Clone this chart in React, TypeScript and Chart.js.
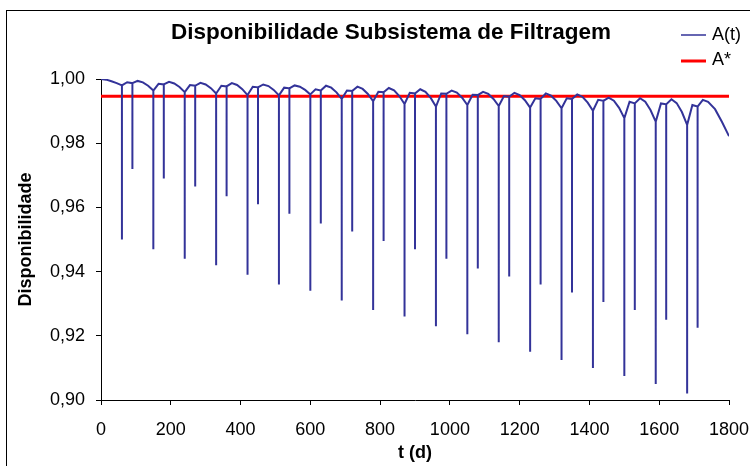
import React, { useEffect, useRef } from "react";
import { Chart, registerables } from "chart.js";

Chart.register(...registerables);

const TITLE = "Disponibilidade Subsistema de Filtragem";
const X_TITLE = "t (d)";
const Y_TITLE = "Disponibilidade";
const SERIES_LABELS = ["A(t)", "A*"];

const X_TICKS = [0, 200, 400, 600, 800, 1000, 1200, 1400, 1600, 1800];
const Y_TICKS = [0.9, 0.92, 0.94, 0.96, 0.98, 1.0];

const A_STAR = 0.9946;

// initial arc before the first maintenance
const startT = [0, 15, 30, 45];
const startA = [1.0, 0.9998, 0.9993, 0.9987];

// major maintenance instants, spike bottoms and curve value there
const majorT = [60, 150, 240, 330, 420, 510, 600, 690, 780, 870, 960, 1050, 1140, 1230, 1320, 1410, 1500, 1590, 1680];
const majorDip = [0.95, 0.947, 0.944, 0.942, 0.939, 0.936, 0.934, 0.931, 0.928, 0.926, 0.923, 0.9205, 0.918, 0.915, 0.9125, 0.91, 0.9075, 0.905, 0.902];
const majorV = [0.998, 0.9964, 0.9959, 0.9955, 0.995, 0.9949, 0.9952, 0.9938, 0.9931, 0.9922, 0.9914, 0.9919, 0.9916, 0.9911, 0.9909, 0.9901, 0.9878, 0.9867, 0.9857];

// small peak after a major maintenance (t + 15)
const riseA = [0.999, 0.9985, 0.9981, 0.9979, 0.9976, 0.9973, 0.9968, 0.9964, 0.996, 0.9957, 0.9955, 0.9951, 0.9947, 0.994, 0.994, 0.9935, 0.9929, 0.9924, 0.9919];

// secondary maintenance instants, spike bottoms and curve value there
const secondaryT = [90, 180, 270, 360, 450, 540, 630, 720, 810, 900, 990, 1080, 1170, 1260, 1350, 1440, 1530, 1620, 1710];
const secondaryDip = [0.972, 0.969, 0.9665, 0.9635, 0.961, 0.958, 0.955, 0.9525, 0.9495, 0.947, 0.944, 0.941, 0.9385, 0.936, 0.9335, 0.9305, 0.928, 0.925, 0.9225];
const secondaryV = [0.9987, 0.9983, 0.9979, 0.9977, 0.9974, 0.9971, 0.9964, 0.9963, 0.9959, 0.9955, 0.9954, 0.995, 0.9945, 0.9938, 0.9938, 0.9932, 0.9924, 0.9921, 0.9914];

// main peak (t + 45) and the falling arc (t + 60, t + 75)
const peakA = [0.9994, 0.9991, 0.9988, 0.9987, 0.9983, 0.998, 0.9979, 0.9976, 0.9972, 0.9968, 0.9964, 0.996, 0.9957, 0.9955, 0.9952, 0.9942, 0.994, 0.9937, 0.9935];
const fallA1 = [0.99895, 0.9986, 0.9983, 0.99815, 0.9978, 0.9976, 0.9973, 0.9969, 0.99645, 0.996, 0.99575, 0.99535, 0.995, 0.9948, 0.99445, 0.99325, 0.9929, 0.9925];
const fallA2 = [0.9979, 0.9975, 0.99715, 0.99685, 0.9966, 0.9966, 0.99585, 0.99535, 0.9947, 0.9941, 0.99415, 0.9938, 0.9934, 0.9932, 0.99265, 0.991, 0.99035, 0.9897];
const PHASE_OFFSETS = [15, 45, 60, 75];

// final arc
const endT = [1740, 1760, 1780, 1800];
const endA = [0.9929, 0.9906, 0.9866, 0.9822];

const BLUE = "#333399";
const RED = "#ff0000";
const FONT = "'Liberation Sans', Arial, sans-serif";

function buildSeries() {
  const pts: { x: number; y: number }[] = [];
  startT.forEach((t, i) => pts.push({ x: t, y: startA[i] }));
  majorT.forEach((t, k) => {
    pts.push({ x: t, y: majorV[k] });
    pts.push({ x: t, y: majorDip[k] });
    pts.push({ x: t, y: majorV[k] });
    pts.push({ x: t + PHASE_OFFSETS[0], y: riseA[k] });
    const s = secondaryT[k];
    pts.push({ x: s, y: secondaryV[k] });
    pts.push({ x: s, y: secondaryDip[k] });
    pts.push({ x: s, y: secondaryV[k] });
    pts.push({ x: t + PHASE_OFFSETS[1], y: peakA[k] });
    if (k < fallA1.length) {
      pts.push({ x: t + PHASE_OFFSETS[2], y: fallA1[k] });
      pts.push({ x: t + PHASE_OFFSETS[3], y: fallA2[k] });
    }
  });
  endT.forEach((t, i) => pts.push({ x: t, y: endA[i] }));
  return pts;
}

const framePlugin = {
  id: "frame",
  beforeDraw(chart: any) {
    const ctx = chart.ctx;
    ctx.save();
    ctx.fillStyle = "#ffffff";
    ctx.fillRect(0, 0, chart.width, chart.height);
    ctx.strokeStyle = "#000000";
    ctx.lineWidth = 1;
    ctx.strokeRect(6.5, 10.5, 800, 600);
    ctx.restore();
  },
  afterDraw(chart: any) {
    const ctx = chart.ctx;
    ctx.save();
    ctx.fillStyle = "#000";
    ctx.textBaseline = "middle";
    ctx.textAlign = "center";
    ctx.font = `bold 22.5px ${FONT}`;
    ctx.fillText(TITLE, 391, 33);
    // legend
    ctx.textAlign = "left";
    ctx.font = `18px ${FONT}`;
    ctx.lineWidth = 1.5;
    ctx.strokeStyle = BLUE;
    ctx.beginPath();
    ctx.moveTo(681, 35);
    ctx.lineTo(706, 35);
    ctx.stroke();
    ctx.fillText(SERIES_LABELS[0], 712, 35);
    ctx.lineWidth = 3;
    ctx.strokeStyle = RED;
    ctx.beginPath();
    ctx.moveTo(681, 61);
    ctx.lineTo(706, 61);
    ctx.stroke();
    ctx.fillText(SERIES_LABELS[1], 712, 60);
    ctx.restore();
  },
};

function zeroPadding(s: any) {
  s.paddingLeft = 0;
  s.paddingRight = 0;
  s.paddingTop = 0;
  s.paddingBottom = 0;
}

export default function App() {
  const ref = useRef<HTMLCanvasElement>(null);
  useEffect(() => {
    if (!ref.current) return;
    const chart = new Chart(ref.current, {
      type: "line",
      data: {
        datasets: [
          {
            label: SERIES_LABELS[0],
            data: buildSeries(),
            borderColor: BLUE,
            borderWidth: 2,
            pointRadius: 0,
            tension: 0,
            fill: false,
          },
          {
            label: SERIES_LABELS[1],
            data: [
              { x: X_TICKS[0], y: A_STAR },
              { x: X_TICKS[X_TICKS.length - 1], y: A_STAR },
            ],
            borderColor: RED,
            borderWidth: 3,
            pointRadius: 0,
            fill: false,
          },
        ],
      },
      options: {
        animation: false,
        responsive: false,
        events: [],
        layout: { padding: { left: 0, right: 21, top: 79, bottom: 0 } },
        plugins: { legend: { display: false }, title: { display: false }, tooltip: { enabled: false } },
        scales: {
          x: {
            type: "linear",
            min: X_TICKS[0],
            max: X_TICKS[X_TICKS.length - 1],
            afterBuildTicks: (s: any) => {
              s.ticks = X_TICKS.map((v) => ({ value: v }));
            },
            afterFit: (s: any) => {
              s.height = 66;
              zeroPadding(s);
            },
            grid: { drawOnChartArea: false, drawTicks: true, tickLength: 5, color: "#000" },
            border: { display: true, color: "#000", width: 1 },
            ticks: {
              color: "#000",
              font: { family: FONT, size: 18 },
              padding: 14,
              maxRotation: 0,
              autoSkip: false,
              callback: (v: any) => String(v),
            },
            title: {
              display: true,
              text: X_TITLE,
              color: "#000",
              font: { family: FONT, size: 18, weight: "bold" },
              padding: { top: 0, bottom: 2 },
            },
          },
          y: {
            type: "linear",
            min: Y_TICKS[0],
            max: Y_TICKS[Y_TICKS.length - 1],
            afterBuildTicks: (s: any) => {
              s.ticks = Y_TICKS.map((v) => ({ value: v }));
            },
            afterFit: (s: any) => {
              s.width = 101;
              zeroPadding(s);
            },
            grid: { drawOnChartArea: false, drawTicks: true, tickLength: 5, color: "#000" },
            border: { display: true, color: "#000", width: 1 },
            ticks: {
              color: "#000",
              font: { family: FONT, size: 18 },
              padding: 11,
              autoSkip: false,
              callback: (v: any) => Number(v).toFixed(2).replace(".", ","),
            },
            title: {
              display: true,
              text: Y_TITLE,
              color: "#000",
              font: { family: FONT, size: 18, weight: "bold" },
              padding: { top: 15, bottom: 0 },
            },
          },
        },
      },
      plugins: [framePlugin],
    });
    return () => chart.destroy();
  }, []);
  return (
    <div style={{ position: "absolute", left: 0, top: 0, width: 750, height: 466 }}>
      <canvas ref={ref} width={750} height={466} style={{ width: 750, height: 466, display: "block" }} />
    </div>
  );
}
